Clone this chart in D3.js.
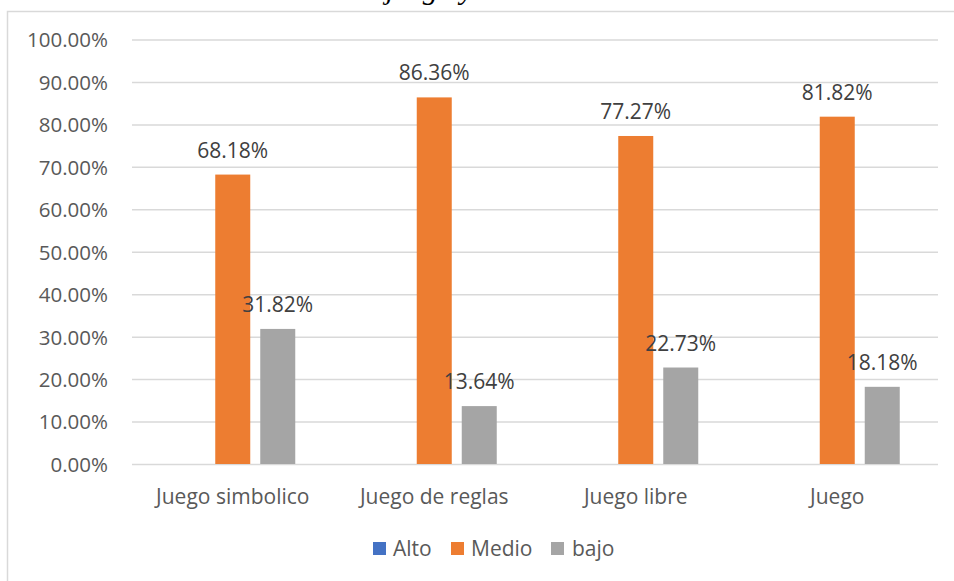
<!DOCTYPE html>
<html>
<head>
<meta charset="utf-8">
<script src="https://cdn.jsdelivr.net/npm/d3@7"></script>
<style>
  html, body { margin: 0; padding: 0; background: #fff; }
  svg { display: block; }
  text { font-family: "Open Sans", Lato, sans-serif; fill: #595959; }
</style>
</head>
<body>
<svg id="chart" width="954" height="581"></svg>
<script>
// Dimensiones del juego: porcentaje por nivel
const categories = ["Juego simbolico", "Juego de reglas", "Juego libre", "Juego"];
const seriesNames = ["Alto", "Medio", "bajo"];
const alto  = [0, 0, 0, 0];
const medio = [0.6818, 0.8636, 0.7727, 0.8182];
const bajo  = [0.3182, 0.1364, 0.2273, 0.1818];
const yTicks = [0, 0.1, 0.2, 0.3, 0.4, 0.5, 0.6, 0.7, 0.8, 0.9, 1.0];
const colors = ["#4472C4", "#ED7D31", "#A5A5A5"];

const seriesValues = [alto, medio, bajo];

const svg = d3.select("#chart");
const plot = { left: 132, right: 938, top: 39.5, bottom: 464 };

// chart frame
svg.append("rect")
  .attr("x", 7.5).attr("y", 11.5)
  .attr("width", 1000).attr("height", 700)
  .attr("fill", "none").attr("stroke", "#D9D9D9").attr("stroke-width", 1.5);

// title (only its lower part falls inside the page)
svg.append("text")
  .attr("x", 386).attr("y", -1)
  .style("font-family", "'Liberation Serif', serif")
  .style("font-style", "italic")
  .style("font-size", "30px")
  .style("fill", "#000")
  .text("juego y");

const y = d3.scaleLinear().domain([0, 1]).range([plot.bottom, plot.top]);
const x0 = d3.scaleBand().domain(categories).range([plot.left, plot.right]).padding(0);
const groupW = 135;
const x1 = d3.scaleBand().domain(seriesNames)
  .range([x0.bandwidth() / 2 - groupW / 2, x0.bandwidth() / 2 + groupW / 2])
  .paddingInner(10 / 45).paddingOuter(5 / 45);

// y axis with gridlines
const yAxis = d3.axisLeft(y)
  .tickValues(yTicks)
  .tickFormat(d3.format(".2%"))
  .tickSize(-(plot.right - plot.left))
  .tickPadding(24);

const gy = svg.append("g")
  .attr("transform", `translate(${plot.left},0)`)
  .call(yAxis);
gy.select(".domain").remove();
gy.selectAll(".tick line").attr("stroke", "#D9D9D9").attr("stroke-width", 1.5);
gy.selectAll(".tick text")
  .style("font-size", "20.5px")
  .style("fill", "#595959")
  .attr("dy", "0.36em");

// x axis labels
const xAxis = d3.axisBottom(x0).tickSize(0).tickPadding(0);
const gx = svg.append("g")
  .attr("transform", `translate(0,${plot.bottom})`)
  .call(xAxis);
gx.select(".domain").remove();
gx.selectAll(".tick text")
  .style("font-size", "21px")
  .style("fill", "#595959")
  .attr("dy", null)
  .attr("y", 40);

// bars
const groups = svg.append("g").selectAll("g")
  .data(categories)
  .join("g")
  .attr("transform", d => `translate(${x0(d)},0)`);

groups.selectAll("rect")
  .data((d, i) => seriesNames.map((s, k) => ({ s, k, v: seriesValues[k][i] })))
  .join("rect")
  .attr("x", d => x1(d.s))
  .attr("width", x1.bandwidth())
  .attr("y", d => y(d.v))
  .attr("height", d => y(0) - y(d.v))
  .attr("fill", d => colors[d.k]);

// value labels for Medio and bajo
groups.selectAll("text.val")
  .data((d, i) => seriesNames.map((s, k) => ({ s, k, v: seriesValues[k][i] })).filter(d => d.v > 0))
  .join("text")
  .attr("class", "val")
  .attr("x", d => x1(d.s) + x1.bandwidth() / 2)
  .attr("y", d => y(d.v) - 17)
  .attr("text-anchor", "middle")
  .style("font-size", "21px")
  .style("fill", "#404040")
  .text(d => d3.format(".2%")(d.v));

// legend
const legendItems = [
  { name: "Alto", sq: 373, tx: 393 },
  { name: "Medio", sq: 451, tx: 471 },
  { name: "bajo", sq: 551, tx: 572 }
];
const lg = svg.append("g");
lg.selectAll("rect")
  .data(legendItems)
  .join("rect")
  .attr("x", d => d.sq).attr("y", 542)
  .attr("width", 13).attr("height", 13)
  .attr("fill", d => colors[seriesNames.indexOf(d.name)]);
lg.selectAll("text")
  .data(legendItems)
  .join("text")
  .attr("x", d => d.tx).attr("y", 556)
  .style("font-size", "21px")
  .style("fill", "#595959")
  .text(d => d.name);
</script>
</body>
</html>
